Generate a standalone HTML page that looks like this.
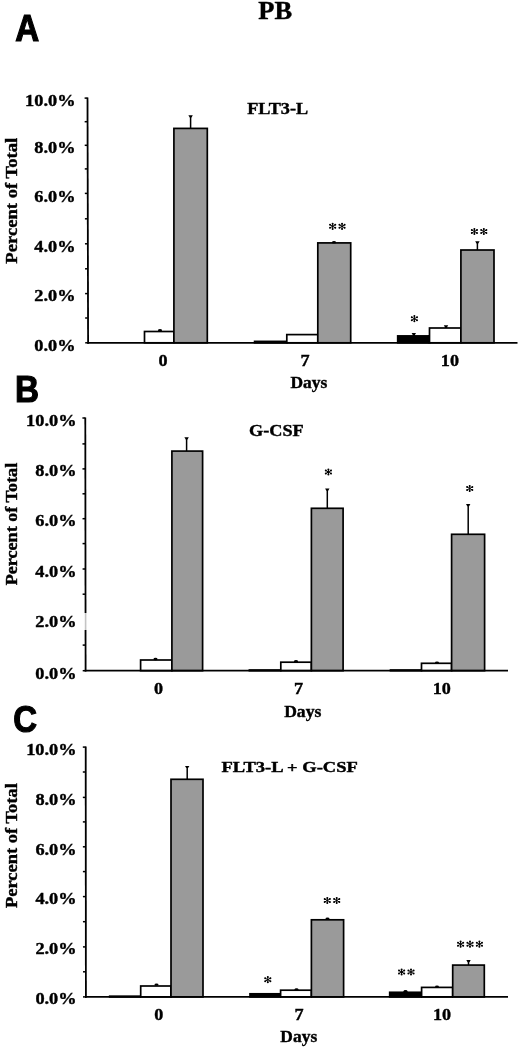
<!DOCTYPE html>
<html><head><meta charset="utf-8"><style>
html,body{margin:0;padding:0;background:#fff;}
body{width:520px;height:1047px;overflow:hidden;}
svg{display:block;}
text{stroke:#000;stroke-width:0.4px;}
</style></head><body>
<svg width="520" height="1047" viewBox="0 0 520 1047">
<defs><filter id="bl" x="0" y="0" width="520" height="1047" filterUnits="userSpaceOnUse"><feGaussianBlur stdDeviation="0.35"/></filter></defs>
<rect width="520" height="1047" fill="#fff"/>
<g filter="url(#bl)">
<rect width="520" height="1047" fill="#fff"/>
<text transform="translate(258.3,18.73) scale(1.07,1)" font-family="&quot;Liberation Serif&quot;, serif" font-weight="bold" font-size="24.77">PB</text>
<text transform="translate(15.22,41.1) scale(0.89,1)" font-family="&quot;Liberation Sans&quot;, sans-serif" font-weight="bold" font-size="37.25" style="stroke-width:1.2px">A</text>
<text transform="translate(14.88,402.35) scale(0.88,1)" font-family="&quot;Liberation Sans&quot;, sans-serif" font-weight="bold" font-size="37.83" style="stroke-width:1.2px">B</text>
<text transform="translate(13.13,732.18) scale(0.89,1)" font-family="&quot;Liberation Sans&quot;, sans-serif" font-weight="bold" font-size="37.04" style="stroke-width:1.2px">C</text>
<rect x="144.5" y="331.5" width="29.4" height="11.3" fill="#fff" stroke="#000" stroke-width="1.7"/>
<path d="M190.6 128.4V116.3" stroke="#000" stroke-width="1.5" fill="none"/>
<path d="M188.4 115.3H192.8L191.5 117.5H189.7Z"/>
<rect x="173.9" y="128.4" width="33.4" height="214.4" fill="#9a9a9a" stroke="#000" stroke-width="1.7"/>
<rect x="254.6" y="341.4" width="32.2" height="1.4" fill="#000" stroke="#000" stroke-width="1.7"/>
<rect x="286.8" y="334.6" width="31" height="8.2" fill="#fff" stroke="#000" stroke-width="1.7"/>
<rect x="317.8" y="242.9" width="32.9" height="99.9" fill="#9a9a9a" stroke="#000" stroke-width="1.7"/>
<path d="M413.8 335.9V334" stroke="#000" stroke-width="1.5" fill="none"/>
<path d="M411.6 333H416L414.7 335.2H412.9Z"/>
<rect x="397.7" y="335.9" width="31.8" height="6.9" fill="#000" stroke="#000" stroke-width="1.7"/>
<path d="M446 328V326.2" stroke="#000" stroke-width="1.5" fill="none"/>
<path d="M443.8 325.2H448.2L446.9 327.4H445.1Z"/>
<rect x="429.5" y="328" width="31.4" height="14.8" fill="#fff" stroke="#000" stroke-width="1.7"/>
<path d="M477.4 250V242.2" stroke="#000" stroke-width="1.5" fill="none"/>
<path d="M475.2 241.2H479.6L478.3 243.4H476.5Z"/>
<rect x="460.9" y="250" width="33.1" height="92.8" fill="#9a9a9a" stroke="#000" stroke-width="1.7"/>
<ellipse cx="160" cy="330.2" rx="2" ry="1.2"/>
<ellipse cx="334" cy="242.2" rx="2" ry="1.2"/>
<line x1="87.5" y1="97.6" x2="88.1" y2="343.7" stroke="#000" stroke-width="1.8"/>
<line x1="87.2" y1="342.8" x2="517.5" y2="342.8" stroke="#000" stroke-width="1.8"/>
<line x1="85.2" y1="342.8" x2="88.1" y2="342.8" stroke="#000" stroke-width="1.5"/>
<line x1="85.14" y1="318" x2="88.04" y2="318" stroke="#000" stroke-width="1.5"/>
<line x1="85.08" y1="293.6" x2="87.98" y2="293.6" stroke="#000" stroke-width="1.5"/>
<line x1="85.02" y1="268.8" x2="87.92" y2="268.8" stroke="#000" stroke-width="1.5"/>
<line x1="84.96" y1="243.8" x2="87.86" y2="243.8" stroke="#000" stroke-width="1.5"/>
<line x1="84.9" y1="218.8" x2="87.8" y2="218.8" stroke="#000" stroke-width="1.5"/>
<line x1="84.84" y1="193.4" x2="87.74" y2="193.4" stroke="#000" stroke-width="1.5"/>
<line x1="84.78" y1="168.9" x2="87.68" y2="168.9" stroke="#000" stroke-width="1.5"/>
<line x1="84.72" y1="145.3" x2="87.62" y2="145.3" stroke="#000" stroke-width="1.5"/>
<line x1="84.66" y1="121.7" x2="87.56" y2="121.7" stroke="#000" stroke-width="1.5"/>
<line x1="84.6" y1="98.1" x2="87.5" y2="98.1" stroke="#000" stroke-width="1.5"/>
<text transform="translate(34.28,350.7) scale(1.06,1)" font-family="&quot;Liberation Serif&quot;, serif" font-weight="bold" font-size="17.3">0.0%</text>
<text transform="translate(34.28,300.9) scale(1.06,1)" font-family="&quot;Liberation Serif&quot;, serif" font-weight="bold" font-size="17.3">2.0%</text>
<text transform="translate(34.28,251.6) scale(1.06,1)" font-family="&quot;Liberation Serif&quot;, serif" font-weight="bold" font-size="17.3">4.0%</text>
<text transform="translate(34.28,202) scale(1.06,1)" font-family="&quot;Liberation Serif&quot;, serif" font-weight="bold" font-size="17.3">6.0%</text>
<text transform="translate(34.28,153.2) scale(1.06,1)" font-family="&quot;Liberation Serif&quot;, serif" font-weight="bold" font-size="17.3">8.0%</text>
<text transform="translate(25.11,105.6) scale(1.06,1)" font-family="&quot;Liberation Serif&quot;, serif" font-weight="bold" font-size="17.3">10.0%</text>
<text transform="translate(16.53,263.68) rotate(-90) scale(1.12,1)" font-family="&quot;Liberation Serif&quot;, serif" font-weight="bold" font-size="16.64">Percent of Total</text>
<text transform="translate(247.13,114.14) scale(1.13,1)" font-family="&quot;Liberation Serif&quot;, serif" font-weight="bold" font-size="16.12">FLT3-L</text>
<text transform="translate(158.57,365.9) scale(1.03,1)" font-family="&quot;Liberation Serif&quot;, serif" font-weight="bold" font-size="17.6">0</text>
<text transform="translate(300.4,365.9) scale(1.03,1)" font-family="&quot;Liberation Serif&quot;, serif" font-weight="bold" font-size="17.6">7</text>
<text transform="translate(440.82,365.9) scale(1.03,1)" font-family="&quot;Liberation Serif&quot;, serif" font-weight="bold" font-size="17.6">10</text>
<text transform="translate(290.45,387.89) scale(1.07,1)" font-family="&quot;Liberation Serif&quot;, serif" font-weight="bold" font-size="16.32">Days</text>
<path d="M332.65 223.7L332.65 228.9M330.05 224.8L335.25 227.8M335.25 224.8L330.05 227.8" stroke="#000" stroke-width="1" stroke-linecap="round"/><circle cx="332.65" cy="223.7" r="1.0"/><circle cx="335.25" cy="224.8" r="1.0"/><circle cx="330.05" cy="224.8" r="1.0"/><circle cx="332.65" cy="228.9" r="1.0"/><circle cx="330.05" cy="227.8" r="1.0"/><circle cx="335.25" cy="227.8" r="1.0"/><path d="M342.05 223.7L342.05 228.9M339.45 224.8L344.65 227.8M344.65 224.8L339.45 227.8" stroke="#000" stroke-width="1" stroke-linecap="round"/><circle cx="342.05" cy="223.7" r="1.0"/><circle cx="344.65" cy="224.8" r="1.0"/><circle cx="339.45" cy="224.8" r="1.0"/><circle cx="342.05" cy="228.9" r="1.0"/><circle cx="339.45" cy="227.8" r="1.0"/><circle cx="344.65" cy="227.8" r="1.0"/>
<path d="M414.4 316.1L414.4 321.3M411.8 317.2L417 320.2M417 317.2L411.8 320.2" stroke="#000" stroke-width="1" stroke-linecap="round"/><circle cx="414.4" cy="316.1" r="1.0"/><circle cx="417" cy="317.2" r="1.0"/><circle cx="411.8" cy="317.2" r="1.0"/><circle cx="414.4" cy="321.3" r="1.0"/><circle cx="411.8" cy="320.2" r="1.0"/><circle cx="417" cy="320.2" r="1.0"/>
<path d="M474.4 228.9L474.4 234.1M471.8 230L477 233M477 230L471.8 233" stroke="#000" stroke-width="1" stroke-linecap="round"/><circle cx="474.4" cy="228.9" r="1.0"/><circle cx="477" cy="230" r="1.0"/><circle cx="471.8" cy="230" r="1.0"/><circle cx="474.4" cy="234.1" r="1.0"/><circle cx="471.8" cy="233" r="1.0"/><circle cx="477" cy="233" r="1.0"/><path d="M483.8 228.9L483.8 234.1M481.2 230L486.4 233M486.4 230L481.2 233" stroke="#000" stroke-width="1" stroke-linecap="round"/><circle cx="483.8" cy="228.9" r="1.0"/><circle cx="486.4" cy="230" r="1.0"/><circle cx="481.2" cy="230" r="1.0"/><circle cx="483.8" cy="234.1" r="1.0"/><circle cx="481.2" cy="233" r="1.0"/><circle cx="486.4" cy="233" r="1.0"/>
<rect x="140.6" y="660" width="31.3" height="10.7" fill="#fff" stroke="#000" stroke-width="1.7"/>
<path d="M186.6 451.1V438.2" stroke="#000" stroke-width="1.5" fill="none"/>
<path d="M184.4 437.2H188.8L187.5 439.4H185.7Z"/>
<rect x="171.9" y="451.1" width="30.7" height="219.6" fill="#9a9a9a" stroke="#000" stroke-width="1.7"/>
<rect x="249.4" y="670" width="31.4" height="0.7" fill="#000" stroke="#000" stroke-width="1.7"/>
<rect x="280.8" y="662.2" width="30.6" height="8.5" fill="#fff" stroke="#000" stroke-width="1.7"/>
<path d="M327.3 508.3V489.5" stroke="#000" stroke-width="1.5" fill="none"/>
<path d="M325.1 488.5H329.5L328.2 490.7H326.4Z"/>
<rect x="311.4" y="508.3" width="31.7" height="162.4" fill="#9a9a9a" stroke="#000" stroke-width="1.7"/>
<rect x="390.5" y="670" width="31" height="0.7" fill="#000" stroke="#000" stroke-width="1.7"/>
<rect x="421.5" y="663.3" width="30.1" height="7.4" fill="#fff" stroke="#000" stroke-width="1.7"/>
<path d="M468.2 534.3V505" stroke="#000" stroke-width="1.5" fill="none"/>
<path d="M466 504H470.4L469.1 506.2H467.3Z"/>
<rect x="451.6" y="534.3" width="33" height="136.4" fill="#9a9a9a" stroke="#000" stroke-width="1.7"/>
<ellipse cx="155.5" cy="659" rx="2" ry="1.2"/>
<ellipse cx="296" cy="661.3" rx="2" ry="1.2"/>
<ellipse cx="437" cy="662.6" rx="2" ry="1.2"/>
<line x1="85.3" y1="417.5" x2="85.6" y2="671.6" stroke="#000" stroke-width="1.8"/>
<line x1="84.7" y1="670.7" x2="508" y2="670.7" stroke="#000" stroke-width="1.8"/>
<line x1="82.7" y1="670.7" x2="85.6" y2="670.7" stroke="#000" stroke-width="1.5"/>
<line x1="82.67" y1="645.1" x2="85.57" y2="645.1" stroke="#000" stroke-width="1.5"/>
<line x1="82.64" y1="618.9" x2="85.54" y2="618.9" stroke="#000" stroke-width="1.5"/>
<line x1="82.61" y1="594.2" x2="85.51" y2="594.2" stroke="#000" stroke-width="1.5"/>
<line x1="82.58" y1="569" x2="85.48" y2="569" stroke="#000" stroke-width="1.5"/>
<line x1="82.55" y1="543.6" x2="85.45" y2="543.6" stroke="#000" stroke-width="1.5"/>
<line x1="82.52" y1="518.7" x2="85.42" y2="518.7" stroke="#000" stroke-width="1.5"/>
<line x1="82.49" y1="493.8" x2="85.39" y2="493.8" stroke="#000" stroke-width="1.5"/>
<line x1="82.46" y1="468.9" x2="85.36" y2="468.9" stroke="#000" stroke-width="1.5"/>
<line x1="82.43" y1="443.9" x2="85.33" y2="443.9" stroke="#000" stroke-width="1.5"/>
<line x1="82.4" y1="418" x2="85.3" y2="418" stroke="#000" stroke-width="1.5"/>
<rect x="81.1" y="613" width="6" height="17" fill="#fff"/>
<rect x="84.8" y="613" width="1.6" height="17" fill="#c4c4c4"/>
<text transform="translate(35.28,678.6) scale(1.06,1)" font-family="&quot;Liberation Serif&quot;, serif" font-weight="bold" font-size="17.3">0.0%</text>
<text transform="translate(35.28,627.4) scale(1.06,1)" font-family="&quot;Liberation Serif&quot;, serif" font-weight="bold" font-size="17.3">2.0%</text>
<text transform="translate(35.28,576.8) scale(1.06,1)" font-family="&quot;Liberation Serif&quot;, serif" font-weight="bold" font-size="17.3">4.0%</text>
<text transform="translate(35.28,526.3) scale(1.06,1)" font-family="&quot;Liberation Serif&quot;, serif" font-weight="bold" font-size="17.3">6.0%</text>
<text transform="translate(35.28,476.4) scale(1.06,1)" font-family="&quot;Liberation Serif&quot;, serif" font-weight="bold" font-size="17.3">8.0%</text>
<text transform="translate(26.11,425.5) scale(1.06,1)" font-family="&quot;Liberation Serif&quot;, serif" font-weight="bold" font-size="17.3">10.0%</text>
<text transform="translate(17.33,585.37) rotate(-90) scale(1.1,1)" font-family="&quot;Liberation Serif&quot;, serif" font-weight="bold" font-size="16.5">Percent of Total</text>
<text transform="translate(249.09,435.54) scale(1.11,1)" font-family="&quot;Liberation Serif&quot;, serif" font-weight="bold" font-size="16.42">G-CSF</text>
<text transform="translate(154.07,694) scale(1.03,1)" font-family="&quot;Liberation Serif&quot;, serif" font-weight="bold" font-size="17.6">0</text>
<text transform="translate(293.95,694) scale(1.03,1)" font-family="&quot;Liberation Serif&quot;, serif" font-weight="bold" font-size="17.6">7</text>
<text transform="translate(432.72,694) scale(1.03,1)" font-family="&quot;Liberation Serif&quot;, serif" font-weight="bold" font-size="17.6">10</text>
<text transform="translate(284.15,717.09) scale(1.05,1)" font-family="&quot;Liberation Serif&quot;, serif" font-weight="bold" font-size="16.78">Days</text>
<path d="M328.4 469.4L328.4 474.6M325.8 470.5L331 473.5M331 470.5L325.8 473.5" stroke="#000" stroke-width="1" stroke-linecap="round"/><circle cx="328.4" cy="469.4" r="1.0"/><circle cx="331" cy="470.5" r="1.0"/><circle cx="325.8" cy="470.5" r="1.0"/><circle cx="328.4" cy="474.6" r="1.0"/><circle cx="325.8" cy="473.5" r="1.0"/><circle cx="331" cy="473.5" r="1.0"/>
<path d="M469.7 485.9L469.7 491.1M467.1 487L472.3 490M472.3 487L467.1 490" stroke="#000" stroke-width="1" stroke-linecap="round"/><circle cx="469.7" cy="485.9" r="1.0"/><circle cx="472.3" cy="487" r="1.0"/><circle cx="467.1" cy="487" r="1.0"/><circle cx="469.7" cy="491.1" r="1.0"/><circle cx="467.1" cy="490" r="1.0"/><circle cx="472.3" cy="490" r="1.0"/>
<rect x="109.7" y="996.2" width="31" height="0.7" fill="#000" stroke="#000" stroke-width="1.7"/>
<rect x="140.7" y="986" width="30.3" height="10.9" fill="#fff" stroke="#000" stroke-width="1.7"/>
<path d="M187.2 779.3V766.9" stroke="#000" stroke-width="1.5" fill="none"/>
<path d="M185 765.9H189.4L188.1 768.1H186.3Z"/>
<rect x="171" y="779.3" width="32" height="217.6" fill="#9a9a9a" stroke="#000" stroke-width="1.7"/>
<rect x="250" y="993.8" width="30.6" height="3.1" fill="#000" stroke="#000" stroke-width="1.7"/>
<rect x="280.6" y="990.2" width="30.8" height="6.7" fill="#fff" stroke="#000" stroke-width="1.7"/>
<rect x="311.4" y="919.8" width="32.2" height="77.1" fill="#9a9a9a" stroke="#000" stroke-width="1.7"/>
<rect x="389.7" y="992.3" width="31.9" height="4.6" fill="#000" stroke="#000" stroke-width="1.7"/>
<rect x="421.6" y="987.4" width="31.1" height="9.5" fill="#fff" stroke="#000" stroke-width="1.7"/>
<path d="M468.5 965.1V961" stroke="#000" stroke-width="1.5" fill="none"/>
<path d="M466.3 960H470.7L469.4 962.2H467.6Z"/>
<rect x="452.7" y="965.1" width="31.6" height="31.8" fill="#9a9a9a" stroke="#000" stroke-width="1.7"/>
<ellipse cx="156.5" cy="984.6" rx="2" ry="1.2"/>
<ellipse cx="296.5" cy="989.4" rx="2" ry="1.2"/>
<ellipse cx="327.5" cy="918.6" rx="2" ry="1.2"/>
<ellipse cx="405.5" cy="991.3" rx="2" ry="1.2"/>
<ellipse cx="437" cy="986.8" rx="2" ry="1.2"/>
<line x1="85.7" y1="746.6" x2="85.9" y2="997.8" stroke="#000" stroke-width="1.8"/>
<line x1="85" y1="996.9" x2="508" y2="996.9" stroke="#000" stroke-width="1.8"/>
<line x1="83" y1="996.9" x2="85.9" y2="996.9" stroke="#000" stroke-width="1.5"/>
<line x1="82.98" y1="971.8" x2="85.88" y2="971.8" stroke="#000" stroke-width="1.5"/>
<line x1="82.96" y1="946.9" x2="85.86" y2="946.9" stroke="#000" stroke-width="1.5"/>
<line x1="82.94" y1="921.7" x2="85.84" y2="921.7" stroke="#000" stroke-width="1.5"/>
<line x1="82.92" y1="896.6" x2="85.82" y2="896.6" stroke="#000" stroke-width="1.5"/>
<line x1="82.9" y1="871.6" x2="85.8" y2="871.6" stroke="#000" stroke-width="1.5"/>
<line x1="82.88" y1="846.8" x2="85.78" y2="846.8" stroke="#000" stroke-width="1.5"/>
<line x1="82.86" y1="821.9" x2="85.76" y2="821.9" stroke="#000" stroke-width="1.5"/>
<line x1="82.84" y1="797.4" x2="85.74" y2="797.4" stroke="#000" stroke-width="1.5"/>
<line x1="82.82" y1="772" x2="85.72" y2="772" stroke="#000" stroke-width="1.5"/>
<line x1="82.8" y1="747.1" x2="85.7" y2="747.1" stroke="#000" stroke-width="1.5"/>
<text transform="translate(35.38,1003.9) scale(1.06,1)" font-family="&quot;Liberation Serif&quot;, serif" font-weight="bold" font-size="17.3">0.0%</text>
<text transform="translate(35.38,953.7) scale(1.06,1)" font-family="&quot;Liberation Serif&quot;, serif" font-weight="bold" font-size="17.3">2.0%</text>
<text transform="translate(35.38,903.9) scale(1.06,1)" font-family="&quot;Liberation Serif&quot;, serif" font-weight="bold" font-size="17.3">4.0%</text>
<text transform="translate(35.38,854.5) scale(1.06,1)" font-family="&quot;Liberation Serif&quot;, serif" font-weight="bold" font-size="17.3">6.0%</text>
<text transform="translate(35.38,805) scale(1.06,1)" font-family="&quot;Liberation Serif&quot;, serif" font-weight="bold" font-size="17.3">8.0%</text>
<text transform="translate(26.21,754.8) scale(1.06,1)" font-family="&quot;Liberation Serif&quot;, serif" font-weight="bold" font-size="17.3">10.0%</text>
<text transform="translate(17.33,907.98) rotate(-90) scale(1.12,1)" font-family="&quot;Liberation Serif&quot;, serif" font-weight="bold" font-size="16.5">Percent of Total</text>
<text transform="translate(221.52,771.85) scale(1.24,1)" font-family="&quot;Liberation Serif&quot;, serif" font-weight="bold" font-size="14.93">FLT3-L + G-CSF</text>
<text transform="translate(154.37,1019.8) scale(1.03,1)" font-family="&quot;Liberation Serif&quot;, serif" font-weight="bold" font-size="17.6">0</text>
<text transform="translate(294.55,1019.8) scale(1.03,1)" font-family="&quot;Liberation Serif&quot;, serif" font-weight="bold" font-size="17.6">7</text>
<text transform="translate(432.92,1019.8) scale(1.03,1)" font-family="&quot;Liberation Serif&quot;, serif" font-weight="bold" font-size="17.6">10</text>
<text transform="translate(280.35,1041.69) scale(1.04,1)" font-family="&quot;Liberation Serif&quot;, serif" font-weight="bold" font-size="16.78">Days</text>
<path d="M267.8 977.1L267.8 982.3M265.2 978.2L270.4 981.2M270.4 978.2L265.2 981.2" stroke="#000" stroke-width="1" stroke-linecap="round"/><circle cx="267.8" cy="977.1" r="1.0"/><circle cx="270.4" cy="978.2" r="1.0"/><circle cx="265.2" cy="978.2" r="1.0"/><circle cx="267.8" cy="982.3" r="1.0"/><circle cx="265.2" cy="981.2" r="1.0"/><circle cx="270.4" cy="981.2" r="1.0"/>
<path d="M327.3 897.9L327.3 903.1M324.7 899L329.9 902M329.9 899L324.7 902" stroke="#000" stroke-width="1" stroke-linecap="round"/><circle cx="327.3" cy="897.9" r="1.0"/><circle cx="329.9" cy="899" r="1.0"/><circle cx="324.7" cy="899" r="1.0"/><circle cx="327.3" cy="903.1" r="1.0"/><circle cx="324.7" cy="902" r="1.0"/><circle cx="329.9" cy="902" r="1.0"/><path d="M336.7 897.9L336.7 903.1M334.1 899L339.3 902M339.3 899L334.1 902" stroke="#000" stroke-width="1" stroke-linecap="round"/><circle cx="336.7" cy="897.9" r="1.0"/><circle cx="339.3" cy="899" r="1.0"/><circle cx="334.1" cy="899" r="1.0"/><circle cx="336.7" cy="903.1" r="1.0"/><circle cx="334.1" cy="902" r="1.0"/><circle cx="339.3" cy="902" r="1.0"/>
<path d="M401.6 969.4L401.6 974.6M399 970.5L404.2 973.5M404.2 970.5L399 973.5" stroke="#000" stroke-width="1" stroke-linecap="round"/><circle cx="401.6" cy="969.4" r="1.0"/><circle cx="404.2" cy="970.5" r="1.0"/><circle cx="399" cy="970.5" r="1.0"/><circle cx="401.6" cy="974.6" r="1.0"/><circle cx="399" cy="973.5" r="1.0"/><circle cx="404.2" cy="973.5" r="1.0"/><path d="M411 969.4L411 974.6M408.4 970.5L413.6 973.5M413.6 970.5L408.4 973.5" stroke="#000" stroke-width="1" stroke-linecap="round"/><circle cx="411" cy="969.4" r="1.0"/><circle cx="413.6" cy="970.5" r="1.0"/><circle cx="408.4" cy="970.5" r="1.0"/><circle cx="411" cy="974.6" r="1.0"/><circle cx="408.4" cy="973.5" r="1.0"/><circle cx="413.6" cy="973.5" r="1.0"/>
<path d="M460.6 941.6L460.6 946.8M458 942.7L463.2 945.7M463.2 942.7L458 945.7" stroke="#000" stroke-width="1" stroke-linecap="round"/><circle cx="460.6" cy="941.6" r="1.0"/><circle cx="463.2" cy="942.7" r="1.0"/><circle cx="458" cy="942.7" r="1.0"/><circle cx="460.6" cy="946.8" r="1.0"/><circle cx="458" cy="945.7" r="1.0"/><circle cx="463.2" cy="945.7" r="1.0"/><path d="M470 941.6L470 946.8M467.4 942.7L472.6 945.7M472.6 942.7L467.4 945.7" stroke="#000" stroke-width="1" stroke-linecap="round"/><circle cx="470" cy="941.6" r="1.0"/><circle cx="472.6" cy="942.7" r="1.0"/><circle cx="467.4" cy="942.7" r="1.0"/><circle cx="470" cy="946.8" r="1.0"/><circle cx="467.4" cy="945.7" r="1.0"/><circle cx="472.6" cy="945.7" r="1.0"/><path d="M479.4 941.6L479.4 946.8M476.8 942.7L482 945.7M482 942.7L476.8 945.7" stroke="#000" stroke-width="1" stroke-linecap="round"/><circle cx="479.4" cy="941.6" r="1.0"/><circle cx="482" cy="942.7" r="1.0"/><circle cx="476.8" cy="942.7" r="1.0"/><circle cx="479.4" cy="946.8" r="1.0"/><circle cx="476.8" cy="945.7" r="1.0"/><circle cx="482" cy="945.7" r="1.0"/>
</g>
</svg>
</body></html>
